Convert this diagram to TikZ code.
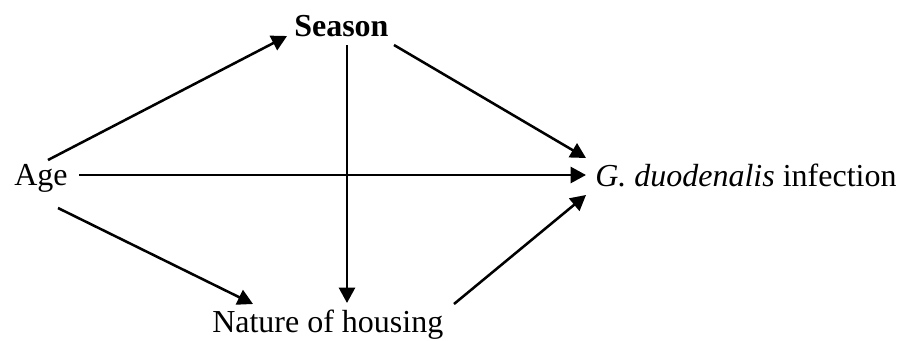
\documentclass[tikz,border=0pt]{standalone}
\usepackage{fontspec}
\setmainfont{Liberation Serif}
\usepackage{tikz}
\usetikzlibrary{arrows.meta,calc}

\begin{document}
\begin{tikzpicture}[
  x=0.75pt, y=-0.75pt,
  >={Triangle[length=11.5pt, width=12pt]},
  font=\fontsize{24}{28}\selectfont,
  var/.style={inner sep=0pt, anchor=base west},
  arr/.style={->, line width=1.9pt},
]
\useasboundingbox (0,0) rectangle (904,340);

% ---- variables ----
\node[var] (age)    at (14,185)  {Age};
\node[var] (season) at (294,36)  {\textbf{Season}};
\node[var] (house)  at (212,332) {Nature of housing};
\node[var] (infect) at (595,186) {\textit{G. duodenalis} infection};

% ---- arrows out of age ----
\draw[arr] ($(age.base west)+(34,-25)$) -- ($(season.base west)+(-7,0)$);
\draw[arr] ($(age.base west)+(65,-10)$) -- ($(infect.base west)+(-9,-11)$);
\draw[arr] ($(age.base west)+(44,23)$) -- ($(house.base west)+(41,-28)$);

% ---- arrows out of season ----
\draw[arr] ($(season.base west)+(53,9)$) -- ($(house.base west)+(135,-29)$);
\draw[arr] ($(season.base west)+(100,9)$) -- ($(infect.base west)+(-9,-28)$);

% ---- housing to infection ----
\draw[arr] ($(house.base west)+(242,-28)$) -- ($(infect.base west)+(-9,9)$);

\end{tikzpicture}
\end{document}
